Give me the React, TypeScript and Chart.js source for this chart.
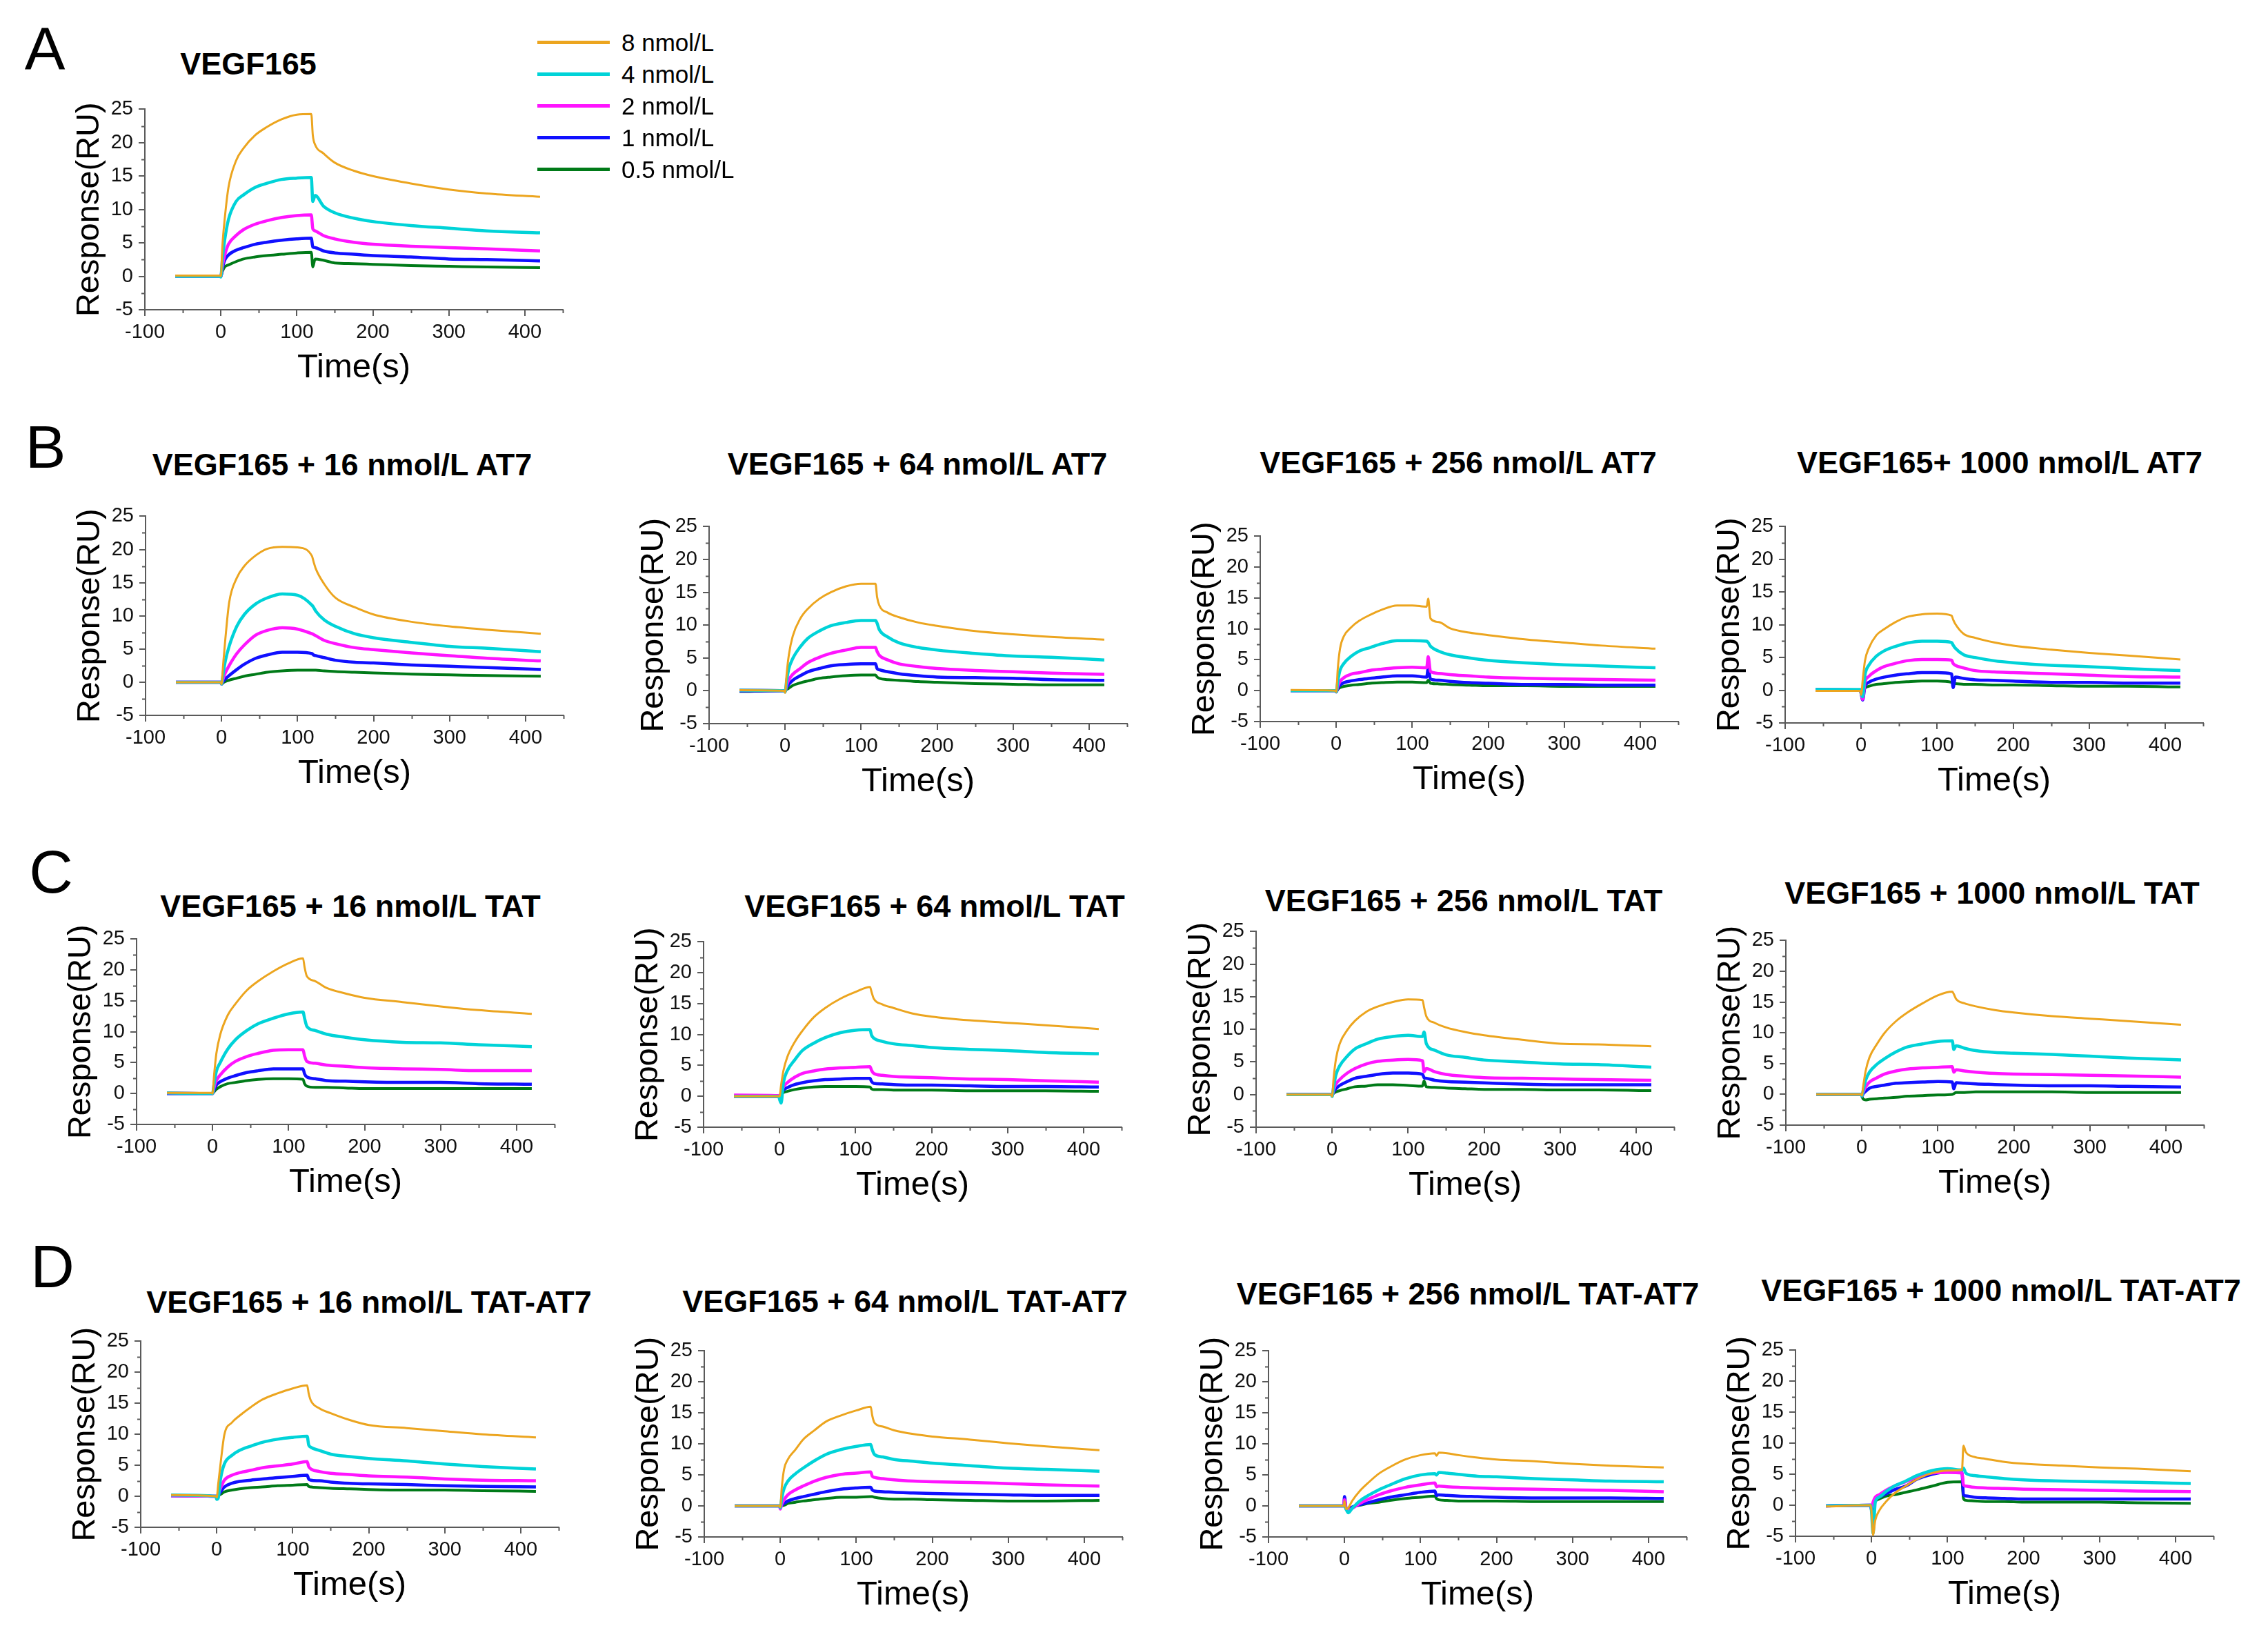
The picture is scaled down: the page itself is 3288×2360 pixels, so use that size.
import React, { useEffect, useRef } from 'react';
import { Chart, registerables } from 'chart.js';

Chart.register(...registerables);

// ---------------- DATA ----------------
// Sampling times (s)
const TIME = [-60, -1, 0, 2, 5, 10, 20, 30, 45, 60, 80, 100, 119, 121, 124, 135, 150, 175, 200, 250, 300, 350, 420];

const SERIES_LABELS = ['8 nmol/L', '4 nmol/L', '2 nmol/L', '1 nmol/L', '0.5 nmol/L'];

const X_TICKS = [-100, 0, 100, 200, 300, 400];
const X_MINOR = [-50, 50, 150, 250, 350, 450];
const Y_TICKS = [-5, 0, 5, 10, 15, 20, 25];
const Y_MINOR = [-2.5, 2.5, 7.5, 12.5, 17.5, 22.5];

// Each panel: responses (RU) for 8, 4, 2, 1, 0.5 nmol/L VEGF165
const VEGF_ONLY = [
  [0.1, 0.1, 0, 4.5, 8.5, 13.3, 17.3, 19.2, 21.1, 22.3, 23.5, 24.2, 24.3, 21.1, 19.7, 18.4, 17.0, 15.8, 15.0, 13.9, 13.0, 12.4, 11.9],
  [0, 0, -0.1, 2.6, 5.4, 8.5, 11.2, 12.2, 13.3, 13.9, 14.5, 14.7, 14.8, 11.2, 12.1, 10.5, 9.5, 8.7, 8.2, 7.6, 7.2, 6.8, 6.5],
  [0, 0, 0, 1.5, 3.1, 4.8, 6.1, 7.0, 7.8, 8.3, 8.8, 9.1, 9.2, 7.1, 6.8, 6.1, 5.6, 5.1, 4.8, 4.5, 4.3, 4.1, 3.8],
  [0, 0, 0, 1.2, 2.4, 3.2, 3.9, 4.3, 4.8, 5.1, 5.4, 5.6, 5.7, 4.4, 4.3, 3.8, 3.5, 3.3, 3.1, 2.9, 2.6, 2.5, 2.3],
  [0, 0, 0, 0.7, 1.4, 1.7, 2.2, 2.6, 2.9, 3.1, 3.3, 3.5, 3.6, 1.4, 2.6, 2.4, 2.0, 1.9, 1.8, 1.6, 1.5, 1.4, 1.3],
];

const AT7_16 = [
  [0, 0, -0.3, 2.5, 6.5, 12.0, 15.7, 17.5, 19.1, 20.1, 20.4, 20.3, 19.0, 18.2, 17.1, 14.8, 12.7, 11.3, 10.2, 9.1, 8.4, 7.9, 7.3],
  [0, 0, -0.3, 1.2, 3.2, 5.4, 8.4, 10.2, 11.8, 12.7, 13.3, 13.1, 11.6, 11.3, 10.7, 9.4, 8.4, 7.3, 6.7, 6.0, 5.4, 5.1, 4.6],
  [0, 0, -0.3, 0.5, 1.4, 2.5, 4.3, 5.6, 7.1, 7.8, 8.2, 8.0, 7.3, 7.2, 7.0, 6.3, 5.8, 5.2, 4.9, 4.4, 4.0, 3.6, 3.2],
  [0, 0, -0.3, 0.1, 0.5, 1.0, 1.9, 2.7, 3.6, 4.1, 4.5, 4.5, 4.3, 4.1, 4.0, 3.7, 3.3, 3.0, 2.9, 2.6, 2.4, 2.2, 1.9],
  [0, 0, -0.3, -0.1, 0.1, 0.3, 0.6, 0.9, 1.2, 1.5, 1.7, 1.8, 1.8, 1.8, 1.8, 1.7, 1.6, 1.5, 1.4, 1.2, 1.1, 1.0, 0.9],
];

const AT7_64 = [
  [0.1, 0, -0.3, 2.5, 5.5, 8.3, 11.0, 12.5, 14.0, 15.0, 15.9, 16.3, 16.3, 14.3, 13.0, 11.9, 11.2, 10.4, 9.9, 9.1, 8.6, 8.2, 7.8],
  [0.1, 0, -0.2, 1.5, 3.4, 4.9, 6.7, 8.0, 9.1, 9.9, 10.4, 10.7, 10.7, 10.3, 9.3, 8.2, 7.3, 6.6, 6.2, 5.7, 5.3, 5.1, 4.7],
  [0.1, 0, -0.1, 0.8, 1.7, 2.5, 3.4, 4.3, 5.1, 5.7, 6.2, 6.6, 6.6, 6.0, 5.4, 4.7, 4.1, 3.7, 3.4, 3.1, 2.9, 2.7, 2.5],
  [0, 0, 0, 0.5, 1.0, 1.6, 2.3, 2.9, 3.4, 3.8, 4.0, 4.1, 4.1, 3.4, 3.2, 2.9, 2.6, 2.3, 2.1, 2.0, 1.9, 1.7, 1.6],
  [-0.1, 0, 0, 0.2, 0.4, 0.8, 1.2, 1.5, 1.9, 2.1, 2.3, 2.4, 2.4, 2.1, 1.9, 1.7, 1.6, 1.4, 1.3, 1.1, 1.0, 0.9, 0.9],
];

const AT7_256 = [
  [0.1, 0, -0.2, 3.5, 6.8, 8.8, 10.3, 11.3, 12.3, 13.1, 13.8, 13.8, 13.6, 14.9, 11.7, 11.1, 10.1, 9.4, 9.0, 8.3, 7.8, 7.3, 6.8],
  [0, 0, -0.2, 1.5, 3.3, 4.4, 5.6, 6.4, 7.0, 7.6, 8.1, 8.1, 8.0, 7.8, 7.2, 6.4, 5.8, 5.3, 4.9, 4.5, 4.2, 4.0, 3.7],
  [0, 0, -0.2, 0.7, 1.5, 2.1, 2.7, 2.9, 3.3, 3.5, 3.7, 3.8, 3.7, 5.5, 3.1, 2.8, 2.6, 2.4, 2.2, 2.0, 1.9, 1.8, 1.7],
  [0, 0, -0.2, 0.4, 0.9, 1.3, 1.6, 1.8, 2.0, 2.2, 2.4, 2.4, 2.2, 3.6, 1.9, 1.7, 1.5, 1.3, 1.2, 1.0, 1.0, 0.9, 0.9],
  [0, 0, -0.2, 0.2, 0.5, 0.7, 0.9, 1.0, 1.2, 1.3, 1.4, 1.4, 1.3, 1.7, 1.2, 1.1, 1.0, 0.9, 0.8, 0.8, 0.7, 0.7, 0.7],
];

const AT7_1000 = [
  [-0.1, -0.1, -0.7, 1.5, 4.5, 6.4, 8.4, 9.3, 10.4, 11.2, 11.6, 11.7, 11.4, 10.8, 10.1, 8.6, 8.0, 7.3, 6.8, 6.2, 5.7, 5.3, 4.7],
  [0.1, 0.1, -0.5, -1.0, 2.3, 3.8, 5.2, 6.0, 6.7, 7.2, 7.5, 7.5, 7.3, 6.9, 6.4, 5.4, 5.0, 4.5, 4.2, 3.8, 3.6, 3.3, 3.0],
  [0, 0, -0.5, -1.4, 1.2, 2.1, 3.0, 3.6, 4.1, 4.5, 4.7, 4.7, 4.6, 4.1, 3.8, 3.4, 3.0, 2.8, 2.7, 2.5, 2.3, 2.1, 2.0],
  [0.1, 0, -0.5, -1.5, 0.6, 1.2, 1.7, 2.0, 2.3, 2.5, 2.7, 2.7, 2.5, 0.4, 2.0, 1.8, 1.6, 1.5, 1.4, 1.2, 1.2, 1.1, 1.1],
  [0, 0, -0.2, -0.8, 0.3, 0.6, 0.9, 1.0, 1.2, 1.3, 1.4, 1.4, 1.2, 1.0, 1.0, 0.9, 0.9, 0.8, 0.8, 0.7, 0.6, 0.6, 0.5],
];

const TAT_16 = [
  [0.1, 0.1, 0, 3.0, 6.5, 9.5, 12.7, 14.5, 16.7, 18.2, 19.8, 21.1, 21.9, 20.5, 19.0, 18.2, 17.1, 16.2, 15.5, 14.8, 14.1, 13.5, 12.9],
  [0.1, 0, 0, 1.6, 3.6, 5.0, 7.2, 8.7, 10.2, 11.3, 12.2, 12.9, 13.2, 12.2, 10.9, 10.2, 9.6, 9.1, 8.7, 8.3, 8.2, 7.9, 7.6],
  [0.1, 0, 0, 1.0, 2.1, 3.0, 4.3, 5.2, 6.0, 6.5, 7.0, 7.1, 7.1, 6.1, 5.2, 4.9, 4.6, 4.4, 4.2, 4.0, 3.9, 3.7, 3.7],
  [0, 0, 0, 0.6, 1.4, 1.9, 2.5, 2.9, 3.4, 3.7, 4.0, 4.0, 4.0, 3.2, 2.7, 2.4, 2.1, 2.0, 1.9, 1.8, 1.8, 1.6, 1.5],
  [0, 0, 0, 0.3, 0.7, 1.1, 1.6, 1.8, 2.1, 2.3, 2.4, 2.4, 2.3, 1.6, 1.2, 1.0, 1.0, 0.9, 0.8, 0.8, 0.8, 0.8, 0.8],
];

const TAT_64 = [
  [0, 0, 0, 1.8, 4.1, 6.3, 8.8, 10.6, 12.8, 14.3, 15.8, 16.9, 17.7, 16.9, 15.8, 14.9, 14.3, 13.4, 12.9, 12.3, 11.9, 11.5, 10.9],
  [0, 0, -0.5, -1.1, 2.2, 4.1, 5.9, 7.4, 8.6, 9.5, 10.3, 10.7, 10.8, 9.9, 9.4, 8.9, 8.5, 8.2, 7.9, 7.6, 7.4, 7.1, 6.9],
  [0.2, 0.1, 0, 0.6, 1.5, 2.2, 3.1, 3.7, 4.1, 4.4, 4.6, 4.7, 4.8, 4.2, 3.7, 3.4, 3.2, 3.1, 3.0, 2.8, 2.7, 2.5, 2.3],
  [0, 0, 0, 0.4, 1.0, 1.4, 1.9, 2.2, 2.5, 2.7, 2.8, 2.9, 2.9, 2.4, 2.1, 2.0, 1.9, 1.8, 1.8, 1.7, 1.6, 1.6, 1.5],
  [0, 0, 0, 0.2, 0.6, 0.8, 1.1, 1.3, 1.5, 1.6, 1.6, 1.6, 1.5, 1.2, 1.1, 1.1, 1.0, 1.0, 1.0, 0.9, 0.9, 0.9, 0.8],
];

const TAT_256 = [
  [0, 0, -0.3, 2.5, 5.4, 7.8, 9.9, 11.3, 12.7, 13.5, 14.2, 14.6, 14.5, 13.4, 12.0, 11.0, 10.3, 9.6, 9.1, 8.4, 7.8, 7.7, 7.4],
  [0, 0, -0.3, 1.2, 3.0, 4.4, 5.9, 7.0, 7.8, 8.5, 8.9, 9.1, 8.9, 9.6, 7.8, 6.8, 6.1, 5.7, 5.3, 5.0, 4.7, 4.6, 4.2],
  [0, 0, -0.2, 0.7, 1.6, 2.3, 3.3, 4.0, 4.7, 5.1, 5.3, 5.4, 5.2, 3.5, 4.0, 3.5, 3.1, 2.8, 2.6, 2.5, 2.4, 2.3, 2.2],
  [0, 0, -0.1, 0.4, 0.9, 1.4, 2.0, 2.5, 2.8, 3.1, 3.3, 3.3, 3.1, 2.6, 2.5, 2.2, 2.0, 1.9, 1.8, 1.6, 1.5, 1.5, 1.5],
  [0, 0, 0, 0.2, 0.4, 0.6, 0.9, 1.2, 1.3, 1.5, 1.5, 1.4, 1.3, 2.1, 1.2, 1.1, 1.0, 0.9, 0.8, 0.8, 0.7, 0.7, 0.6],
];

const TAT_1000 = [
  [0, 0, -0.2, 1.5, 3.8, 6.0, 8.2, 10.0, 11.9, 13.3, 14.8, 16.1, 16.7, 16.3, 15.5, 14.8, 14.3, 13.7, 13.3, 12.7, 12.3, 11.9, 11.3],
  [0, 0, -0.3, 0.8, 2.3, 3.6, 4.9, 5.8, 6.9, 7.7, 8.2, 8.6, 8.7, 7.3, 7.9, 7.5, 7.1, 6.8, 6.7, 6.5, 6.2, 5.9, 5.6],
  [0, 0, -0.3, 0.4, 1.2, 2.0, 2.7, 3.3, 3.8, 4.1, 4.3, 4.4, 4.5, 3.6, 4.0, 3.8, 3.6, 3.4, 3.3, 3.2, 3.1, 3.0, 2.8],
  [0, 0, -0.3, 0.1, 0.5, 1.0, 1.3, 1.5, 1.8, 1.9, 2.0, 2.1, 2.0, 0.9, 1.9, 1.8, 1.7, 1.6, 1.5, 1.4, 1.4, 1.3, 1.2],
  [0, 0, -0.3, -0.8, -0.9, -0.8, -0.7, -0.6, -0.5, -0.3, -0.2, -0.1, 0.0, 0.1, 0.3, 0.3, 0.4, 0.4, 0.4, 0.4, 0.3, 0.3, 0.3],
];

const TATAT7_16 = [
  [0.2, 0, -0.2, 2.0, 5.2, 9.9, 11.9, 13.0, 14.4, 15.6, 16.6, 17.4, 17.9, 16.6, 15.4, 14.2, 13.4, 12.3, 11.5, 11.0, 10.5, 10.0, 9.5],
  [0.2, 0, -0.5, -0.3, 2.8, 5.2, 6.6, 7.4, 8.1, 8.7, 9.2, 9.5, 9.7, 8.3, 7.9, 7.4, 6.8, 6.4, 6.1, 5.7, 5.2, 4.8, 4.4],
  [0.1, 0, -0.2, 0.4, 1.3, 2.6, 3.4, 3.8, 4.2, 4.6, 4.9, 5.2, 5.6, 4.8, 4.4, 4.0, 3.7, 3.5, 3.3, 3.1, 2.8, 2.6, 2.5],
  [0.1, 0, -0.2, 0.2, 0.7, 1.5, 2.1, 2.4, 2.6, 2.8, 3.0, 3.2, 3.4, 2.8, 2.6, 2.5, 2.3, 2.1, 2.0, 1.9, 1.7, 1.6, 1.5],
  [0.1, 0, -0.1, 0.1, 0.3, 0.7, 1.0, 1.2, 1.4, 1.5, 1.7, 1.8, 1.9, 1.6, 1.5, 1.4, 1.3, 1.2, 1.1, 1.0, 1.0, 0.9, 0.8],
];

const TATAT7_64 = [
  [0, 0, -0.2, 3.0, 5.9, 7.5, 9.1, 10.7, 12.2, 13.6, 14.6, 15.4, 16.0, 14.6, 13.4, 12.8, 12.2, 11.6, 11.2, 10.7, 10.1, 9.6, 9.0],
  [0, 0, -0.3, 1.3, 2.8, 4.0, 5.2, 6.1, 7.3, 8.3, 9.1, 9.6, 9.9, 9.1, 8.3, 7.9, 7.5, 7.2, 6.9, 6.5, 6.1, 5.9, 5.6],
  [0, 0, -0.5, 0.3, 1.0, 1.8, 2.6, 3.2, 4.0, 4.6, 5.1, 5.3, 5.5, 4.8, 4.6, 4.4, 4.2, 4.0, 3.9, 3.8, 3.6, 3.4, 3.2],
  [0, 0, -0.2, 0.1, 0.4, 0.8, 1.2, 1.5, 1.9, 2.3, 2.7, 2.9, 3.0, 2.6, 2.4, 2.3, 2.2, 2.1, 2.0, 1.9, 1.8, 1.7, 1.7],
  [0, 0, -0.1, 0, 0.1, 0.4, 0.6, 0.8, 1.0, 1.2, 1.4, 1.4, 1.5, 1.5, 1.4, 1.2, 1.1, 1.1, 1.0, 0.9, 0.8, 0.8, 0.9],
];

const TATAT7_256 = [
  [0, 0, 0.8, -0.5, -0.3, 0.8, 2.4, 3.6, 5.2, 6.3, 7.5, 8.2, 8.5, 8.1, 8.6, 8.5, 8.2, 7.8, 7.5, 7.2, 6.8, 6.5, 6.2],
  [0, 0, 0, -0.5, -1.1, -0.4, 0.8, 1.6, 2.6, 3.4, 4.4, 5.0, 5.2, 5.0, 5.4, 5.3, 5.1, 4.8, 4.7, 4.4, 4.2, 4.0, 3.9],
  [0, 0, 1.0, -0.4, -0.7, -0.4, 0.4, 1.0, 1.8, 2.4, 3.0, 3.4, 3.7, 3.1, 3.2, 3.1, 3.0, 2.9, 2.8, 2.7, 2.6, 2.5, 2.3],
  [0, 0, 1.5, -0.3, -0.6, -0.2, 0.2, 0.5, 1.0, 1.4, 1.8, 2.2, 2.4, 1.7, 1.8, 1.7, 1.6, 1.5, 1.4, 1.3, 1.3, 1.3, 1.2],
  [0, 0, 0.3, -0.5, -0.6, -0.2, 0.1, 0.4, 0.6, 0.9, 1.2, 1.4, 1.6, 1.2, 1.0, 0.9, 0.8, 0.8, 0.8, 0.7, 0.7, 0.7, 0.7],
];

const TATAT7_1000 = [
  [-0.2, 0, -1.0, -4.8, -2.4, -0.9, 0.7, 1.9, 3.1, 4.2, 5.2, 5.6, 5.7, 9.6, 8.6, 7.8, 7.5, 7.0, 6.7, 6.4, 6.1, 5.9, 5.5],
  [-0.1, 0, -1.0, -4.5, 0.5, 1.3, 2.3, 3.1, 3.9, 4.8, 5.6, 5.9, 5.7, 6.0, 5.2, 4.8, 4.6, 4.3, 4.1, 3.9, 3.8, 3.7, 3.5],
  [-0.1, 0, -0.5, 0.5, 1.3, 1.7, 2.5, 3.1, 3.8, 4.6, 5.2, 5.3, 5.2, 3.3, 3.1, 2.9, 2.8, 2.7, 2.6, 2.5, 2.4, 2.3, 2.2],
  [-0.1, 0, -0.8, -0.2, 0.9, 1.3, 1.9, 2.5, 3.1, 4.2, 5.0, 5.4, 5.3, 1.7, 1.5, 1.3, 1.2, 1.1, 1.0, 1.0, 1.0, 1.0, 1.0],
  [-0.1, 0, -0.3, 0.3, 0.7, 1.0, 1.5, 1.7, 2.1, 2.5, 3.1, 3.7, 3.8, 1.1, 0.8, 0.7, 0.6, 0.6, 0.5, 0.5, 0.5, 0.4, 0.3],
];

// ---------------- STYLE & LAYOUT ----------------
const FONT = "'Liberation Sans', Arial, Helvetica, sans-serif";
const SERIES_COLORS = ['#eca51f', '#00d3d8', '#ff14ff', '#1010ff', '#007a18'];
const SERIES_WIDTHS = [3, 4.5, 4.5, 4.5, 4];
const AXIS_COLOR = '#5a5a5a';

const Y_BOX = 108; // width of y scale box (labels + title)
const X_BOX = 114; // height of x scale box
const PAD_T = 22;
const PAD_R = 14;
const PLOT_W = 606; // pixels for -100..450 s

const PANELS = [
  { title: 'VEGF165', data: VEGF_ONLY, ax: 210, top: 155, bot: 449, tx: 360, ty: 92 },
  { title: 'VEGF165 + 16 nmol/L AT7', data: AT7_16, ax: 211, top: 745, bot: 1037, tx: 496, ty: 673 },
  { title: 'VEGF165 + 64 nmol/L AT7', data: AT7_64, ax: 1028, top: 760, bot: 1049, tx: 1330, ty: 672 },
  { title: 'VEGF165 + 256 nmol/L AT7', data: AT7_256, ax: 1827, top: 774, bot: 1046, tx: 2114, ty: 670 },
  { title: 'VEGF165+ 1000 nmol/L AT7', data: AT7_1000, ax: 2588, top: 760, bot: 1048, tx: 2899, ty: 670 },
  { title: 'VEGF165 + 16 nmol/L TAT', data: TAT_16, ax: 198, top: 1358, bot: 1630, tx: 508, ty: 1313 },
  { title: 'VEGF165 + 64 nmol/L TAT', data: TAT_64, ax: 1020, top: 1362, bot: 1634, tx: 1355, ty: 1313 },
  { title: 'VEGF165 + 256 nmol/L TAT', data: TAT_256, ax: 1821, top: 1347, bot: 1634, tx: 2122, ty: 1305 },
  { title: 'VEGF165 + 1000 nmol/L TAT', data: TAT_1000, ax: 2589, top: 1360, bot: 1631, tx: 2888, ty: 1294 },
  { title: 'VEGF165 + 16 nmol/L TAT-AT7', data: TATAT7_16, ax: 204, top: 1941, bot: 2214, tx: 535, ty: 1887 },
  { title: 'VEGF165 + 64 nmol/L TAT-AT7', data: TATAT7_64, ax: 1021, top: 1955, bot: 2228, tx: 1312, ty: 1886 },
  { title: 'VEGF165 + 256 nmol/L TAT-AT7', data: TATAT7_256, ax: 1839, top: 1955, bot: 2228, tx: 2128, ty: 1875 },
  { title: 'VEGF165 + 1000 nmol/L TAT-AT7', data: TATAT7_1000, ax: 2603, top: 1954, bot: 2227, tx: 2901, ty: 1870 },
];

const LETTERS = [
  { t: 'A', x: 65, y: 71 },
  { t: 'B', x: 66, y: 648 },
  { t: 'C', x: 74, y: 1264 },
  { t: 'D', x: 76, y: 1836 },
];

const LEGEND = { lineX: 779, lineW: 105, textX: 901, y0: 61, dy: 46, size: 35 };

// minor tick marks drawn through the chart's own scales
const minorTicks = {
  id: 'minorTicks',
  afterDraw(chart: any) {
    const { ctx } = chart;
    const xs = chart.scales.x;
    const ys = chart.scales.y;
    ctx.save();
    ctx.strokeStyle = AXIS_COLOR;
    ctx.lineWidth = 2;
    ctx.beginPath();
    X_MINOR.forEach((v) => {
      const px = Math.round(xs.getPixelForValue(v)) + 0.5;
      ctx.moveTo(px, xs.top);
      ctx.lineTo(px, xs.top + 5);
    });
    Y_MINOR.forEach((v) => {
      const py = Math.round(ys.getPixelForValue(v)) + 0.5;
      ctx.moveTo(ys.right, py);
      ctx.lineTo(ys.right - 5, py);
    });
    ctx.stroke();
    ctx.restore();
  },
};

function Panel({ p }: { p: any }) {
  const ref = useRef<HTMLCanvasElement | null>(null);
  const W = Y_BOX + PLOT_W + PAD_R;
  const H = PAD_T + (p.bot - p.top) + X_BOX;

  useEffect(() => {
    if (!ref.current) return;
    const chart = new Chart(ref.current, {
      type: 'line',
      data: {
        datasets: p.data.map((vals: number[], i: number) => ({
          label: SERIES_LABELS[i],
          data: TIME.map((t, j) => ({ x: t, y: vals[j] })),
          borderColor: SERIES_COLORS[i],
          backgroundColor: SERIES_COLORS[i],
          borderWidth: SERIES_WIDTHS[i],
          pointRadius: 0,
          cubicInterpolationMode: 'monotone',
          fill: false,
        })),
      },
      options: {
        responsive: false,
        animation: false,
        devicePixelRatio: 1,
        events: [],
        layout: { padding: { top: PAD_T, right: PAD_R, left: 0, bottom: 0 } },
        plugins: { legend: { display: false }, tooltip: { enabled: false }, title: { display: false } },
        scales: {
          x: {
            type: 'linear',
            min: -100,
            max: 450,
            afterBuildTicks: (s: any) => {
              s.ticks = X_TICKS.map((v) => ({ value: v }));
            },
            afterFit: (s: any) => {
              s.height = X_BOX;
            },
            grid: { drawOnChartArea: false, drawTicks: true, tickLength: 9, color: AXIS_COLOR, lineWidth: 2 },
            border: { display: true, color: AXIS_COLOR, width: 2 },
            ticks: { font: { family: FONT, size: 29 }, color: '#111', padding: 7, maxRotation: 0, autoSkip: false },
            title: { display: true, text: 'Time(s)', font: { family: FONT, size: 49 }, color: '#000', padding: 0 },
          },
          y: {
            type: 'linear',
            min: -5,
            max: 25,
            afterBuildTicks: (s: any) => {
              s.ticks = Y_TICKS.map((v) => ({ value: v }));
            },
            afterFit: (s: any) => {
              s.width = Y_BOX;
            },
            grid: { drawOnChartArea: false, drawTicks: true, tickLength: 9, color: AXIS_COLOR, lineWidth: 2 },
            border: { display: true, color: AXIS_COLOR, width: 2 },
            ticks: { font: { family: FONT, size: 29 }, color: '#111', padding: 8, autoSkip: false },
            title: { display: true, text: 'Response(RU)', font: { family: FONT, size: 47 }, color: '#000', padding: 0 },
          },
        },
      } as any,
      plugins: [minorTicks],
    });
    return () => chart.destroy();
  }, []);

  return (
    <canvas
      ref={ref}
      width={W}
      height={H}
      style={{ position: 'absolute', left: p.ax - Y_BOX, top: p.top - PAD_T, width: W, height: H }}
    />
  );
}

export default function App() {
  return (
    <div
      style={{
        position: 'absolute',
        left: 0,
        top: 0,
        width: 3288,
        height: 2360,
        background: '#fff',
        overflow: 'hidden',
        fontFamily: FONT,
        color: '#000',
      }}
    >
      {LETTERS.map((l) => (
        <div
          key={l.t}
          style={{
            position: 'absolute',
            left: l.x,
            top: l.y,
            transform: 'translate(-50%, -50%)',
            fontSize: 88,
            lineHeight: 1,
            whiteSpace: 'nowrap',
          }}
        >
          {l.t}
        </div>
      ))}
      {PANELS.map((p, i) => (
        <div
          key={'t' + i}
          style={{
            position: 'absolute',
            left: p.tx,
            top: p.ty,
            transform: 'translate(-50%, -50%)',
            fontSize: 45,
            fontWeight: 'bold',
            lineHeight: 1,
            whiteSpace: 'nowrap',
          }}
        >
          {p.title}
        </div>
      ))}
      {PANELS.map((p, i) => (
        <Panel key={'p' + i} p={p} />
      ))}
      {SERIES_LABELS.map((lab, i) => (
        <React.Fragment key={'lg' + i}>
          <div
            style={{
              position: 'absolute',
              left: LEGEND.lineX,
              top: LEGEND.y0 + LEGEND.dy * i - 2.5,
              width: LEGEND.lineW,
              height: 5,
              background: SERIES_COLORS[i],
            }}
          />
          <div
            style={{
              position: 'absolute',
              left: LEGEND.textX,
              top: LEGEND.y0 + LEGEND.dy * i,
              transform: 'translateY(-50%)',
              fontSize: LEGEND.size,
              lineHeight: 1,
              whiteSpace: 'nowrap',
            }}
          >
            {lab}
          </div>
        </React.Fragment>
      ))}
    </div>
  );
}
